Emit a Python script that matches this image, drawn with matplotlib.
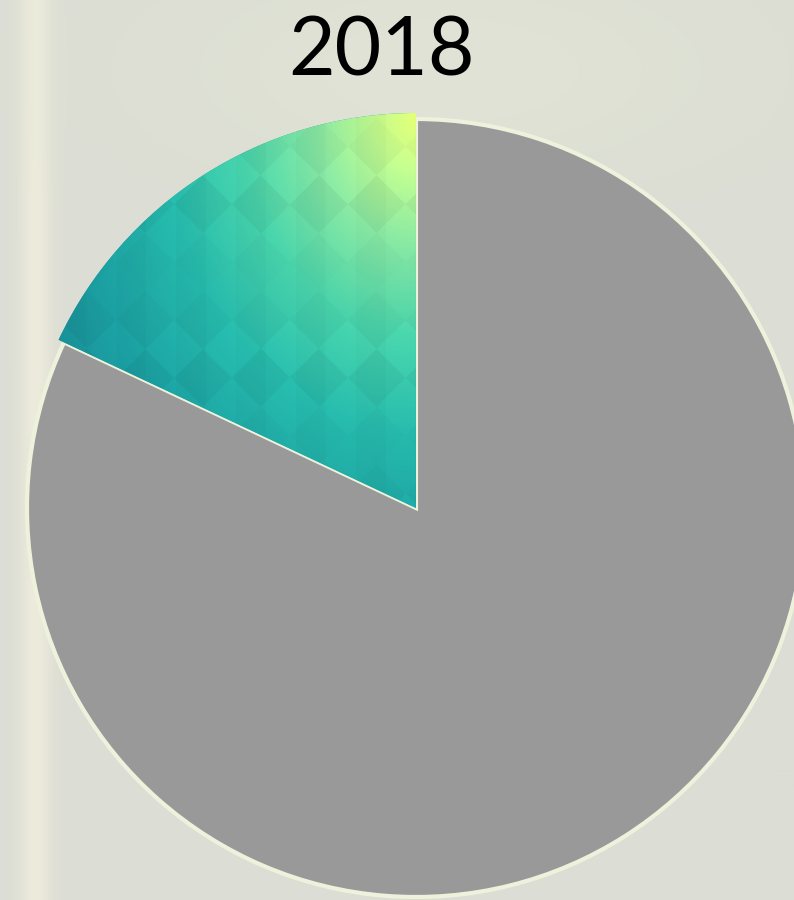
import numpy as np
import matplotlib.pyplot as plt
from matplotlib.colors import LinearSegmentedColormap

year = '2018'
shares = [18, 82]
slice_names = ['highlight', 'rest']

W, H = 794, 900
fig = plt.figure(figsize=(W / 100, H / 100), dpi=100)
ax = fig.add_axes([0, 0, 1, 1])

# soft blurred background (row 0 = top)
gx, gy = np.meshgrid(np.arange(W), np.arange(H))
base = np.zeros((H, W, 3))
base[:] = np.array([220, 221, 212]) / 255
band = np.exp(-((gx - 35) / 16.0) ** 2)[..., None]
base = base * (1 - band) + np.array([236, 235, 220]) / 255 * band
glow = (np.exp(-((gy - 70) / 120.0) ** 2 - ((gx - 450) / 300.0) ** 2) * 0.6)[..., None]
base = base * (1 - glow) + np.array([226, 231, 212]) / 255 * glow
ax.imshow(base, extent=[0, W, 0, H], origin='upper', zorder=0)

cx, cy = 416, H - 508
wedges, _ = ax.pie(shares, startangle=90, counterclock=True,
                   center=(cx, cy), radius=389, colors=['#1fa9a2', '#999999'],
                   wedgeprops=dict(edgecolor='#eef2dc', linewidth=3),
                   frame=True)
ax.set_xlim(0, W)
ax.set_ylim(0, H)
ax.set_aspect('equal')
ax.axis('off')

hl = wedges[0]
hl.set_radius(395)
hl.set_edgecolor('none')
hl.set_zorder(3)
wedges[1].set_zorder(2)

# gradient fill for highlighted slice, brightest at the top-right corner
cmap = LinearSegmentedColormap.from_list('g', [
    (0.0, '#167f8c'), (0.25, '#1b9ea0'), (0.45, '#26b8aa'),
    (0.62, '#48d0a8'), (0.78, '#86e4a0'), (0.91, '#c0f78c'), (1.0, '#e2ff76')])
x0, x1 = cx - 400, cx + 10
y0, y1 = cy - 10, cy + 400
px, py = np.meshgrid(np.linspace(x0, x1, 420), np.linspace(y1, y0, 420))
d = np.hypot((px - (cx + 2)) * 1.0, (py - (cy + 392)) * 0.8)
t = np.clip(1 - d / 460.0, 0, 1)
rgb = cmap(t)[..., :3]
s = 58.0
u = np.floor((px + py) / s)
v = np.floor((px - py) / s)
shade = 0.03 * (((u + v) % 2) - 0.5) + 0.02 * (((u * 2 + v) % 3) / 2 - 0.5)
stripe = 0.02 * ((np.floor((px - cx) / 30) % 2) - 0.5)
rgb = np.clip(rgb * (1 + shade + stripe)[..., None], 0, 1)
img = ax.imshow(rgb, extent=[x0, x1, y0, y1], origin='upper', zorder=4)
img.set_clip_path(hl)

ax.text(382, H - 52, year, ha='center', va='center', fontsize=58,
        family='Lato', color='black', zorder=5)

fig.savefig('out.png', dpi=100)
